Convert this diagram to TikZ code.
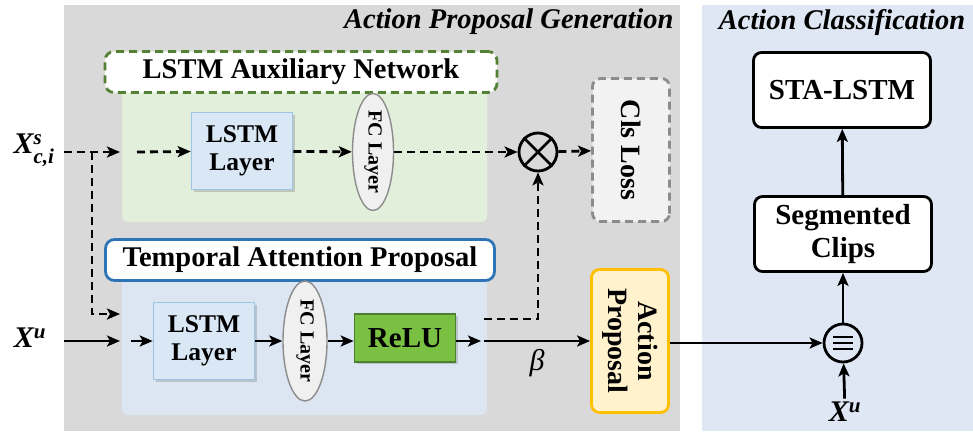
\documentclass[tikz,border=0pt]{standalone}
\usepackage{amsmath}
\usepackage{fontspec}
\setmainfont{Liberation Serif}
\usetikzlibrary{positioning,arrows.meta,calc,shapes.geometric,shadows}
\definecolor{panelgray}{HTML}{D9D9D9}
\definecolor{panelblue}{HTML}{DEE7F3}
\definecolor{auxgreen}{HTML}{E2EFDA}
\definecolor{tapblue}{HTML}{DCE6F2}
\definecolor{auxline}{HTML}{548235}
\definecolor{tapline}{HTML}{2E75B6}
\definecolor{lstmfill}{HTML}{DAE8F6}
\definecolor{lstmline}{HTML}{9DC3E6}
\definecolor{relufill}{HTML}{7AC143}
\definecolor{reluline}{HTML}{4E7F2E}
\definecolor{propfill}{HTML}{FFF2CC}
\definecolor{propline}{HTML}{FFC000}
\definecolor{lossline}{HTML}{8C8C8C}
\newcommand{\bigfont}{\fontsize{28.5}{29}\selectfont\bfseries}
\tikzset{
    flow/.style={-{Stealth[length=13pt,width=11pt,inset=3pt]},line width=2.8pt},
    dflow/.style={flow,dash pattern=on 8pt off 5pt},
    heading/.style={font=\fontsize{28.5}{29}\selectfont\bfseries\itshape},
    tagbox/.style={rounded corners=9pt,fill=white,line width=2.8pt,minimum height=41pt,font=\bigfont},
    layer/.style={draw=lstmline,fill=lstmfill,line width=1.6pt,minimum width=101pt,minimum height=77pt,
        align=center,font=\fontsize{25.5}{28}\selectfont\bfseries,drop shadow={shadow xshift=2pt,shadow yshift=-2pt,opacity=0.35}},
    fclayer/.style={ellipse,draw=lossline,fill=white!94!black,line width=1.4pt,rotate=-90,inner sep=0pt,
        font=\fontsize{20}{20}\selectfont\bfseries},
    sidebox/.style={rounded corners=8pt,line width=2.8pt,rotate=-90,minimum width=143pt,minimum height=77pt,
        align=center,font=\fontsize{28}{30}\selectfont\bfseries},
    clsbox/.style={rounded corners=8pt,draw=black,fill=white,line width=2.8pt,minimum width=177pt,
        minimum height=75pt,align=center,font=\fontsize{29}{33}\selectfont\bfseries},
    varlabel/.style={font=\fontsize{30}{30}\selectfont\bfseries\itshape},
    joint/.style={circle,draw,line width=2.8pt,minimum size=38pt,inner sep=0pt},
}

\begin{document}
\begin{tikzpicture}[x=1pt,y=-1pt]
    \useasboundingbox (0,0) rectangle (973,431);
    % panels
    \fill[panelgray] (64,5) rectangle (680,431);
    \fill[panelblue] (702,5) rectangle (973,431);
    \fill[auxgreen,rounded corners=6pt] (122,72) rectangle (487,222);
    \fill[tapblue,rounded corners=6pt] (122,260) rectangle (487,415);
    \node[heading,anchor=east] (gen) at (677,22) {Action Proposal Generation};
    \node[heading] (cls) at (842,22) {Action Classification};

    % auxiliary branch
    \node[tagbox,draw=auxline,dash pattern=on 8pt off 5pt,minimum width=392pt] (aux) at (301,72) {LSTM Auxiliary Network};
    \node[layer] (lstma) at (242,151) {LSTM\\Layer};
    \node[fclayer,minimum width=111pt,minimum height=41pt] (fca) at (373,152) {FC Layer};
    \node[joint] (mul) at (538,152) {};
    \draw[line width=2.8pt] (mul.north east) -- (mul.south west) (mul.north west) -- (mul.south east);
    \node[sidebox,draw=lossline,fill=white!95!black,dash pattern=on 8pt off 5pt] (loss) at (631,150) {Cls Loss};

    % attention branch
    \node[tagbox,draw=tapline,minimum width=389pt] (tap) at (300,260) {Temporal Attention Proposal};
    \node[layer] (lstmb) at (204,341) {LSTM\\Layer};
    \node[fclayer,minimum width=120pt,minimum height=44pt] (fcb) at (305,341) {FC Layer};
    \node[draw=reluline,fill=relufill,line width=1.6pt,minimum width=101pt,minimum height=48pt,
        font=\fontsize{29}{29}\selectfont\bfseries,drop shadow={shadow xshift=2pt,shadow yshift=-2pt,opacity=0.35}] (relu) at (405,338) {ReLU};
    \node[sidebox,draw=propline,fill=propfill] (prop) at (630,341) {Action\\Proposal};

    % classification
    \node[joint] (merge) at (843,343) {};
    \foreach \dy in {-6,0,6}
        \draw[line width=2.6pt] ([shift={(-10,\dy)}]merge.center) -- ++(20,0);
    \node[clsbox] (seg) at (843,234) {Segmented\\Clips};
    \node[clsbox] (sta) at (842,90) {STA-LSTM};

    % inputs
    \node[varlabel] (xs) at (34,150) {X$^{\textbf{\textit{s}}}_{\textbf{\textit{c,i}}}$};
    \node[varlabel] (xu) at (30,338) {X$^{\textbf{\textit{u}}}$};
    \node[varlabel] (xu2) at (845,412) {X$^{\textbf{\textit{u}}}$};
    \coordinate (split) at (92,152);
    \coordinate (auxin) at (120,152);
    \coordinate (auxgo) at (137,152);
    \coordinate (tapin) at (120,314);
    \coordinate (xuin) at (120,341);
    \coordinate (xugo) at (131,341);
    \coordinate (reluout) at (481,341);
    \coordinate (betago) at (484,341);
    \coordinate (attgo) at (484,319);
    \coordinate (attturn) at (538,319);

    % connectors
    \draw[dflow] (64,152) -- (auxin);
    \draw[dflow] (split) |- (tapin);
    \draw[dflow] (auxgo) -- (lstma);
    \draw[dflow] (lstma) -- (fca);
    \draw[dflow] (fca) -- (mul);
    \draw[dflow] (mul) -- (loss);
    \draw[flow] (64,341) -- (xuin);
    \draw[flow] (xugo) -- (lstmb);
    \draw[flow] (lstmb) -- (fcb);
    \draw[flow] (fcb) -- (relu.west |- fcb);
    \draw[flow] (relu.east |- reluout) -- (reluout);
    \draw[flow] (betago) -- node[below=4pt,font=\fontsize{30}{30}\selectfont\itshape] (beta) {β} (prop.south |- betago);
    \draw[dflow] (attgo) -- (attturn) -- (mul);
    \draw[flow] (prop.north |- merge) -- (merge);
    \draw[flow] (xu2) -- (merge);
    \draw[flow] (merge) -- (seg);
    \draw[flow] (seg) -- (sta);
\end{tikzpicture}
\end{document}
